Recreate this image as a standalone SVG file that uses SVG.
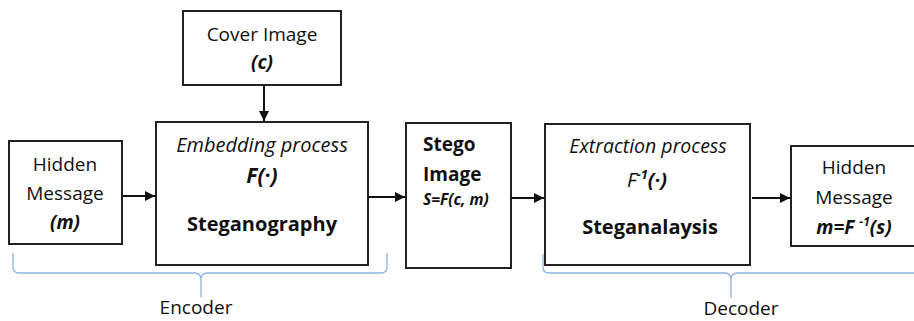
<svg xmlns="http://www.w3.org/2000/svg" width="914" height="321" viewBox="0 0 914 321">
<defs>
<marker id="ah" markerWidth="10" markerHeight="10" refX="10" refY="5" orient="auto" markerUnits="userSpaceOnUse">
<path d="M0,0 L10,5 L0,10 Z" fill="#111"/>
</marker>
<style>
.box{fill:#fff;stroke:#222;stroke-width:2}
.t{font-family:"Open Sans","Noto Sans",sans-serif;font-size:19px;fill:#111;text-anchor:middle}
.b{font-weight:bold}
.i{font-style:italic}
.l{text-anchor:start}
.conn{stroke:#111;stroke-width:2;fill:none}
.brace{stroke:#8fb4de;stroke-width:1.3;fill:none}
</style>
</defs>
<g id="cover">
<rect class="box" x="183" y="11" width="158" height="74"/>
<text class="t" x="262" y="41">Cover Image</text>
<text class="t b i" x="262" y="69">(c)</text>
</g>
<g id="hidden-in">
<rect class="box" x="9" y="141" width="113" height="103"/>
<text class="t" x="65" y="171">Hidden</text>
<text class="t" x="65" y="200">Message</text>
<text class="t b i" x="65" y="229">(m)</text>
</g>
<g id="embedding">
<rect class="box" x="156" y="122" width="212" height="143"/>
<text class="t i" x="262" y="152" style="font-size:20px">Embedding process</text>
<text class="t b i" x="262" y="183" style="font-size:21px">F(·)</text>
<text class="t b" x="262" y="231" style="font-size:20px">Steganography</text>
</g>
<g id="stego">
<rect class="box" x="406" y="123" width="105" height="145"/>
<text class="t b l" x="423" y="151">Stego</text>
<text class="t b l" x="423" y="181">Image</text>
<text class="t b i l" x="423" y="205" style="font-size:15.5px">S=F(c, m)</text>
</g>
<g id="extraction">
<rect class="box" x="545" y="124" width="205" height="141"/>
<text class="t i" x="648" y="153" style="font-size:19.5px">Extraction process</text>
<text class="t" x="647" y="187" style="font-size:20px"><tspan class="i">F</tspan><tspan class="b i" font-size="13" dy="-8">-1</tspan><tspan class="b i" dy="8">(·)</tspan></text>
<text class="t b" x="650" y="234" style="font-size:20px">Steganalaysis</text>
</g>
<g id="hidden-out">
<rect class="box" x="791" y="146" width="130" height="100"/>
<text class="t" x="854" y="174">Hidden</text>
<text class="t" x="854" y="204">Message</text>
<text class="t b i" x="854" y="234">m=F <tspan font-size="12" dy="-8">-1</tspan><tspan dy="8">(s)</tspan></text>
</g>
<g id="connectors">
<line class="conn" x1="264" y1="85" x2="264" y2="121" marker-end="url(#ah)"/>
<line class="conn" x1="122" y1="196" x2="155" y2="196" marker-end="url(#ah)"/>
<line class="conn" x1="368" y1="197" x2="405" y2="197" marker-end="url(#ah)"/>
<line class="conn" x1="511" y1="198" x2="544" y2="198" marker-end="url(#ah)"/>
<line class="conn" x1="752" y1="198" x2="790" y2="198" marker-end="url(#ah)"/>
</g>
<g id="encoder">
<path class="brace" d="M13,253 L13,267 Q13,273 19,273 L195,273 Q201,273 201,280 L201,297 M201,280 Q201,273 207,273 L381,273 Q387,273 387,267 L387,253"/>
<text class="t" x="196" y="314">Encoder</text>
</g>
<g id="decoder">
<path class="brace" d="M543,254 L543,267 Q543,273 549,273 L725,273 Q731,273 731,280 L731,298 M731,280 Q731,273 737,273 L920,273"/>
<text class="t" x="741" y="315">Decoder</text>
</g>
</svg>
